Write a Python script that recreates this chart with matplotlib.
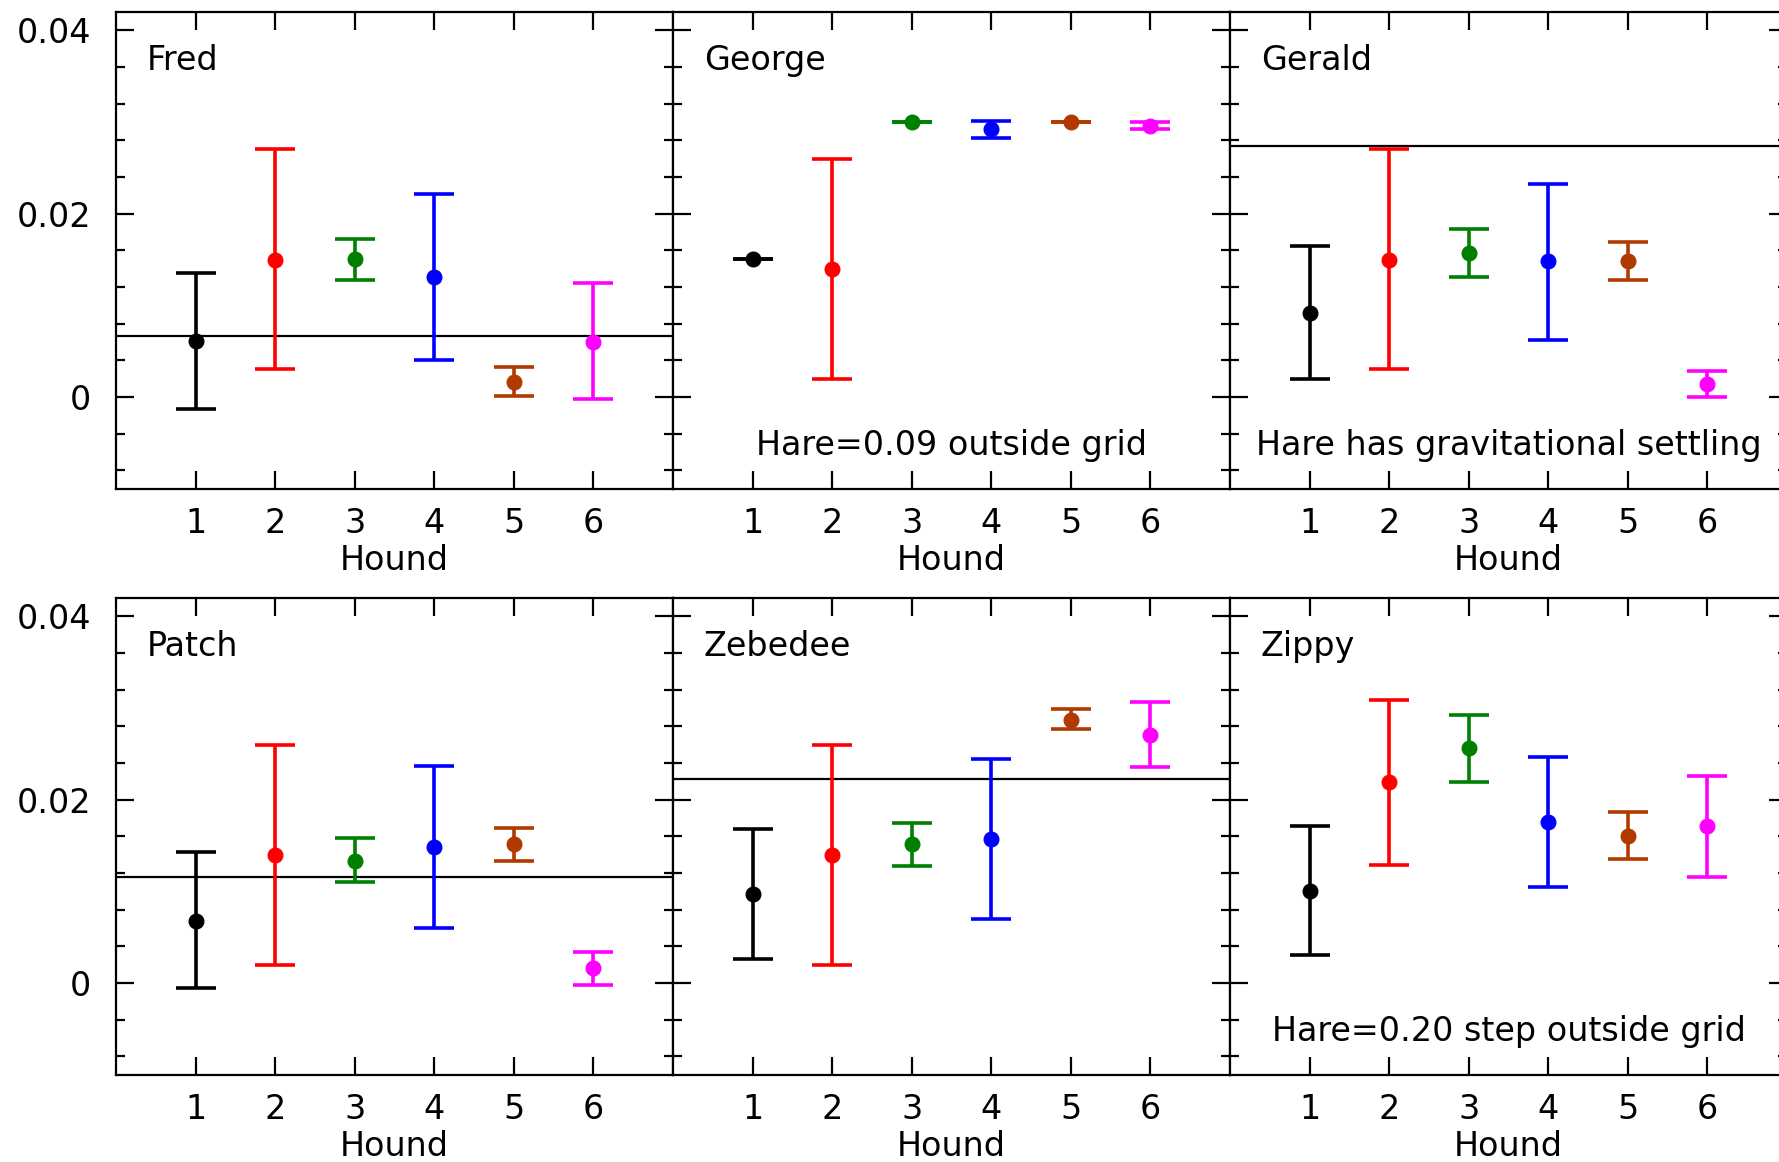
import matplotlib
matplotlib.use("Agg")
import matplotlib.pyplot as plt
from matplotlib.ticker import MultipleLocator

plt.rcParams['font.family'] = ['DejaVu Sans']

hounds = [1, 2, 3, 4, 5, 6]
colors = ['black', '#ff0000', '#008000', '#0000ff', '#b03a00', '#ff00ff']

panel_names = ['Fred', 'George', 'Gerald', 'Patch', 'Zebedee', 'Zippy']

# Estimated value, lower bound and upper bound for each hound
fred_val = [0.0061, 0.0149, 0.0150, 0.0131, 0.0016, 0.0060]
fred_lo = [-0.0013, 0.0030, 0.0128, 0.0040, 0.0001, -0.0002]
fred_hi = [0.0135, 0.0270, 0.0172, 0.0221, 0.0033, 0.0124]

george_val = [0.0150, 0.0140, 0.0300, 0.0292, 0.0300, 0.0296]
george_lo = [0.0150, 0.0020, 0.0300, 0.0283, 0.0300, 0.0292]
george_hi = [0.0150, 0.0260, 0.0300, 0.0301, 0.0300, 0.0300]

gerald_val = [0.0092, 0.0149, 0.0157, 0.0148, 0.0148, 0.0014]
gerald_lo = [0.0019, 0.0030, 0.0131, 0.0062, 0.0127, 0.0000]
gerald_hi = [0.0165, 0.0270, 0.0183, 0.0232, 0.0169, 0.0028]

patch_val = [0.0068, 0.0139, 0.0133, 0.0148, 0.0151, 0.0016]
patch_lo = [-0.0006, 0.0020, 0.0110, 0.0060, 0.0133, -0.0002]
patch_hi = [0.0143, 0.0260, 0.0158, 0.0237, 0.0169, 0.0034]

zebedee_val = [0.0097, 0.0139, 0.0151, 0.0157, 0.0287, 0.0271]
zebedee_lo = [0.0026, 0.0020, 0.0128, 0.0070, 0.0277, 0.0236]
zebedee_hi = [0.0168, 0.0260, 0.0175, 0.0244, 0.0299, 0.0306]

zippy_val = [0.0100, 0.0219, 0.0256, 0.0176, 0.0160, 0.0171]
zippy_lo = [0.0030, 0.0129, 0.0219, 0.0105, 0.0135, 0.0115]
zippy_hi = [0.0171, 0.0309, 0.0292, 0.0247, 0.0186, 0.0226]

# Hare value drawn as a horizontal line (None where it lies off the grid)
hare_lines = [0.0066, None, 0.0274, 0.0115, 0.0222, None]
notes = [None, 'Hare=0.09 outside grid', 'Hare has gravitational settling',
         None, None, 'Hare=0.20 step outside grid']

values = [fred_val, george_val, gerald_val, patch_val, zebedee_val, zippy_val]
lows = [fred_lo, george_lo, gerald_lo, patch_lo, zebedee_lo, zippy_lo]
highs = [fred_hi, george_hi, gerald_hi, patch_hi, zebedee_hi, zippy_hi]

FS = 24

W, H = 1779, 1162
fig = plt.figure(figsize=(W / 100, H / 100), dpi=100)

left_px = 116.0
panel_w = 557.0
row_top = [12.0, 598.0]
panel_h = 476.5

for k in range(6):
    r, c = divmod(k, 3)
    x0 = (left_px + c * panel_w) / W
    y0 = 1 - (row_top[r] + panel_h) / H
    ax = fig.add_axes([x0, y0, panel_w / W, panel_h / H])
    ax.set_xlim(0, 7)
    ax.set_ylim(-0.01, 0.042)

    for i, h in enumerate(hounds):
        v = values[k][i]
        lo = v - lows[k][i]
        hi = highs[k][i] - v
        ax.errorbar(h, v, yerr=[[lo], [hi]], fmt='o', color=colors[i],
                    ms=10.5, elinewidth=2.6, capsize=14.5, capthick=2.6,
                    zorder=3)

    if hare_lines[k] is not None:
        ax.axhline(hare_lines[k], color='black', lw=1.6, zorder=2)

    ax.text(0.055, 0.879, panel_names[k], transform=ax.transAxes,
            fontsize=FS, ha='left', va='baseline')
    if notes[k] is not None:
        ax.text(0.5, 0.0695, notes[k], transform=ax.transAxes,
                fontsize=FS, ha='center', va='baseline')

    ax.set_xticks(hounds)
    ax.set_yticks([0, 0.02, 0.04])
    ax.set_yticklabels(['0', '0.02', '0.04'])
    ax.yaxis.set_minor_locator(MultipleLocator(0.004))
    ax.tick_params(axis='both', which='both', direction='in',
                   top=True, right=True, width=1.6, labelsize=FS)
    ax.tick_params(axis='both', which='major', length=13)
    ax.tick_params(axis='y', which='minor', length=6.5)
    ax.tick_params(axis='x', which='major', pad=13)
    ax.tick_params(axis='y', which='major', pad=18)
    if c != 0:
        ax.tick_params(axis='y', labelleft=False)
    ax.set_xlabel('Hound', fontsize=FS, labelpad=3)
    for s in ax.spines.values():
        s.set_linewidth(1.6)

fig.savefig('out.png', dpi=100)
